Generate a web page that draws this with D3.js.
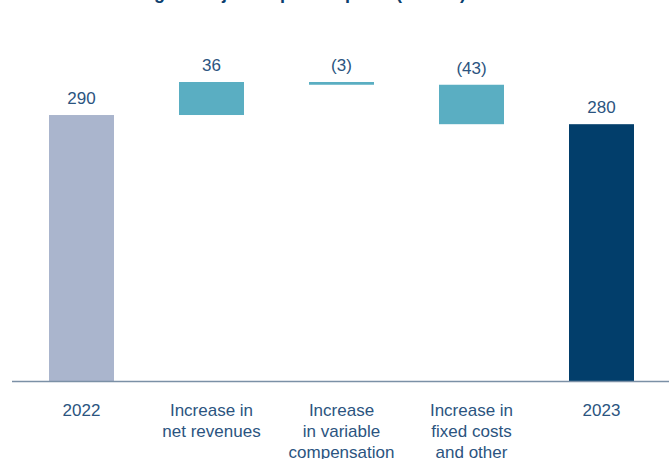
<!DOCTYPE html>
<html>
<head>
<meta charset="utf-8">
<script src="https://cdn.jsdelivr.net/npm/d3@7"></script>
<style>
  body { margin: 0; background: #fff; }
  svg { display: block; }
</style>
</head>
<body>
<div id="chart"></div>
<script>
// Waterfall data (CHF m)
const categories = ["2022", "Increase in\nnet revenues", "Increase\nin variable\ncompensation", "Increase in\nfixed costs\nand other", "2023"];
const deltas = [290, 36, -3, -43, 280];
const kinds = ["start", "step", "step", "step", "total"];
const valueLabels = ["290", "36", "(3)", "(43)", "280"];

const W = 669, H = 459;
const baseY = 381;

const colors = { start: "#aab5cd", step: "#5aaec2", total: "#023e6b" };
const textColor = "#2b5480";
const font = "Liberation Sans, Arial, sans-serif";

// Build the floating segments
let running = 0;
const bars = categories.map((c, i) => {
  let lo, hi;
  if (kinds[i] === "step") {
    const next = running + deltas[i];
    lo = Math.min(running, next); hi = Math.max(running, next);
    running = next;
  } else {
    lo = 0; hi = deltas[i];
    running = deltas[i];
  }
  return { cat: c, lo, hi, kind: kinds[i], label: valueLabels[i] };
});

const svg = d3.select("#chart").append("svg")
  .attr("width", W)
  .attr("height", H);

// Title, cropped at the top edge like the source
svg.append("text")
  .attr("x", 14)
  .attr("y", -1)
  .attr("font-family", font)
  .attr("font-weight", "bold")
  .attr("font-size", 18)
  .attr("fill", "#0b3f6e")
  .text("Sources of change in adjusted pre-tax profit (CHF m)");

// step 130, bar width 65, first bar at x=49
const x = d3.scaleBand()
  .domain(categories)
  .range([-16, 699])
  .paddingInner(0.5)
  .paddingOuter(0.5);

const y = d3.scaleLinear()
  .domain([0, 326])
  .range([baseY, 82]);

svg.selectAll("rect.bar")
  .data(bars)
  .enter().append("rect")
  .attr("class", "bar")
  .attr("x", d => x(d.cat))
  .attr("width", x.bandwidth())
  .attr("y", d => y(d.hi))
  .attr("height", d => Math.max(2.5, y(d.lo) - y(d.hi)))
  .attr("fill", d => colors[d.kind]);

// value labels
svg.selectAll("text.val")
  .data(bars)
  .enter().append("text")
  .attr("class", "val")
  .attr("x", d => x(d.cat) + x.bandwidth() / 2)
  .attr("y", d => y(d.hi) - 11)
  .attr("text-anchor", "middle")
  .attr("font-family", font)
  .attr("font-size", 17)
  .attr("fill", textColor)
  .text(d => d.label);

// baseline
svg.append("line")
  .attr("x1", 12)
  .attr("x2", W)
  .attr("y1", baseY + 0.5)
  .attr("y2", baseY + 0.5)
  .attr("stroke", "#7b90a6")
  .attr("stroke-width", 1.5);

// category labels
const catText = svg.selectAll("text.cat")
  .data(bars)
  .enter().append("text")
  .attr("class", "cat")
  .attr("text-anchor", "middle")
  .attr("font-family", font)
  .attr("font-size", 17)
  .attr("fill", textColor);

catText.each(function(d) {
  const t = d3.select(this);
  d.cat.split("\n").forEach((line, i) => {
    t.append("tspan")
      .attr("x", x(d.cat) + x.bandwidth() / 2)
      .attr("y", 416 + i * 21)
      .text(line);
  });
});
</script>
</body>
</html>
